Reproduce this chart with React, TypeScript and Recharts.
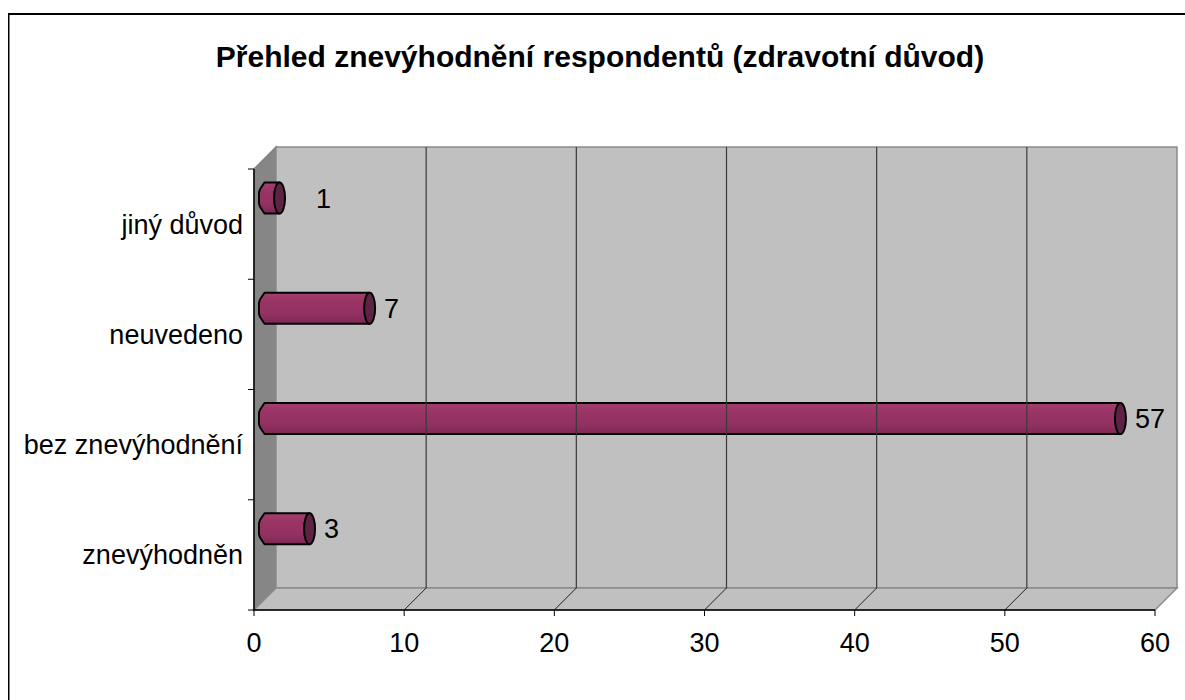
import React from 'react';
import {
  BarChart,
  Bar,
  XAxis,
  YAxis,
  ReferenceArea,
  ReferenceLine,
  LabelList,
} from 'recharts';

const TITLE = 'Přehled znevýhodnění respondentů (zdravotní důvod)';
const CATEGORIES = ['jiný důvod', 'neuvedeno', 'bez znevýhodnění', 'znevýhodněn'];
const COUNTS = [1, 7, 57, 3];
const X_TICKS = [0, 10, 20, 30, 40, 50, 60];

const data = CATEGORIES.map((name, i) => ({ name, count: COUNTS[i] }));

if (typeof document !== 'undefined') {
  document.body.style.margin = '0';
  document.body.style.overflow = 'hidden';
}

const FONT = "'Liberation Sans', Arial, sans-serif";
const LABEL_SIZE = 27;
const W = 1177;
const H = 692;
const DEPTH = 22; // 3d wall offset
const BAR_SHIFT_X = 10.5;
const BAR_SHIFT_Y = -26.5;

// back wall, side wall, floor and category ticks
const Walls = (props: any) => {
  const { x, y, width, height } = props;
  const b = y + height;
  const n = CATEGORIES.length;
  return (
    <g>
      <polygon
        points={`${x},${y} ${x + DEPTH},${y - DEPTH} ${x + DEPTH},${b - DEPTH} ${x},${b}`}
        fill="#868686"
        stroke="#808080"
        strokeWidth={1.5}
      />
      <rect x={x + DEPTH} y={y - DEPTH} width={width} height={height} fill="#c0c0c0" stroke="#8a8a8a" strokeWidth={1.5} />
      <polygon
        points={`${x},${b} ${x + width},${b} ${x + width + DEPTH},${b - DEPTH} ${x + DEPTH},${b - DEPTH}`}
        fill="#c0c0c0"
        stroke="#8a8a8a"
        strokeWidth={1.5}
      />
      {Array.from({ length: n + 1 }).map((_, k) => (
        <line key={k} x1={x - 6} x2={x} y1={y + (height * k) / n} y2={y + (height * k) / n} stroke="#000" strokeWidth={1} />
      ))}
    </g>
  );
};

// gridline on the back wall plus the diagonal across the floor
const GridLine3D = (props: any) => {
  const { x1, y1, y2 } = props;
  const top = Math.min(y1, y2);
  const bottom = Math.max(y1, y2);
  return (
    <g>
      <line x1={x1 + DEPTH} x2={x1 + DEPTH} y1={top - DEPTH} y2={bottom - DEPTH} stroke="#3a3a3a" strokeWidth={1.2} />
      <line x1={x1} x2={x1 + DEPTH} y1={bottom} y2={bottom - DEPTH} stroke="#222" strokeWidth={1} />
    </g>
  );
};

const Cylinder = (props: any) => {
  const { x, y, width, height } = props;
  const xl = x + BAR_SHIFT_X;
  const xr = x + width + BAR_SHIFT_X;
  const yt = y + BAR_SHIFT_Y;
  const yb = yt + height;
  const r = 5.5;
  const c = height * 0.22;
  return (
    <g>
      <path
        d={`M${xl},${yt} L${xr},${yt} L${xr},${yb} L${xl},${yb} L${xl - r + 1},${yb - c} L${xl - r},${yb - c - 3} L${xl - r},${yt + c + 3} L${xl - r + 1},${yt + c} Z`}
        fill="url(#barGrad)"
        stroke="#000"
        strokeWidth={2}
        strokeLinejoin="round"
      />
      <ellipse cx={xr} cy={(yt + yb) / 2} rx={r} ry={height / 2} fill="#5e2243" stroke="#000" strokeWidth={2} />
    </g>
  );
};

const ValueLabel = (props: any) => {
  const { x, y, width, height, value } = props;
  const tx = Math.max(x + width + 25, x + 62);
  const ty = y + height / 2 + BAR_SHIFT_Y;
  return (
    <text x={tx} y={ty} dy="0.355em" fontSize={LABEL_SIZE} fontFamily={FONT} fill="#000">
      {value}
    </text>
  );
};

const XTick = (props: any) => (
  <text x={props.x} y={props.y} dy="0.71em" textAnchor="middle" fontSize={LABEL_SIZE} fontFamily={FONT} fill="#000">
    {props.payload.value}
  </text>
);

const YTick = (props: any) => (
  <text x={props.x} y={props.y} dy="0.355em" textAnchor="end" fontSize={LABEL_SIZE} fontFamily={FONT} fill="#000">
    {props.payload.value}
  </text>
);

export default function App() {
  return (
    <div style={{ width: 1185, height: 700, overflow: 'hidden', background: '#fff' }}>
      <div style={{ position: 'relative', left: 8, top: 8, width: W, height: H }}>
        <svg width={W} height={H} style={{ position: 'absolute', left: 0, top: 0 }}>
          <path d={`M0.5,${H} L0.5,6 L${W},6`} fill="none" stroke="#000" strokeWidth={2} />
          <text x={592} y={59} textAnchor="middle" fontSize={30} fontWeight="bold" fontFamily={FONT} fill="#000">
            {TITLE}
          </text>
        </svg>
        <div style={{ position: 'absolute', left: 0, top: 0 }}>
          <BarChart
            width={W}
            height={H}
            layout="vertical"
            data={data}
            margin={{ top: 161, right: 30, bottom: 60, left: 8 }}
          >
            <defs>
              <linearGradient id="barGrad" x1="0" y1="0" x2="0" y2="1">
                <stop offset="0%" stopColor="#a4416f" />
                <stop offset="25%" stopColor="#9a3566" />
                <stop offset="70%" stopColor="#923161" />
                <stop offset="100%" stopColor="#7c2854" />
              </linearGradient>
            </defs>
            <ReferenceArea x1={0} x2={60} shape={Walls} fillOpacity={1} />
            {X_TICKS.slice(1, -1).map((v) => (
              <ReferenceLine key={v} x={v} shape={GridLine3D} />
            ))}
            <XAxis
              type="number"
              domain={[0, 60]}
              ticks={X_TICKS}
              interval={0}
              height={30}
              axisLine={{ stroke: '#000', strokeWidth: 1.5 }}
              tickLine={{ stroke: '#000' }}
              tickSize={6}
              tickMargin={17}
              tick={XTick}
            />
            <YAxis
              type="category"
              dataKey="name"
              width={238}
              axisLine={{ stroke: '#000', strokeWidth: 1.5 }}
              tickLine={false}
              tickSize={0}
              tickMargin={11}
              tick={YTick}
            />
            <Bar dataKey="count" barSize={31} shape={Cylinder} isAnimationActive={false}>
              <LabelList dataKey="count" content={ValueLabel} />
            </Bar>
          </BarChart>
        </div>
      </div>
    </div>
  );
}
